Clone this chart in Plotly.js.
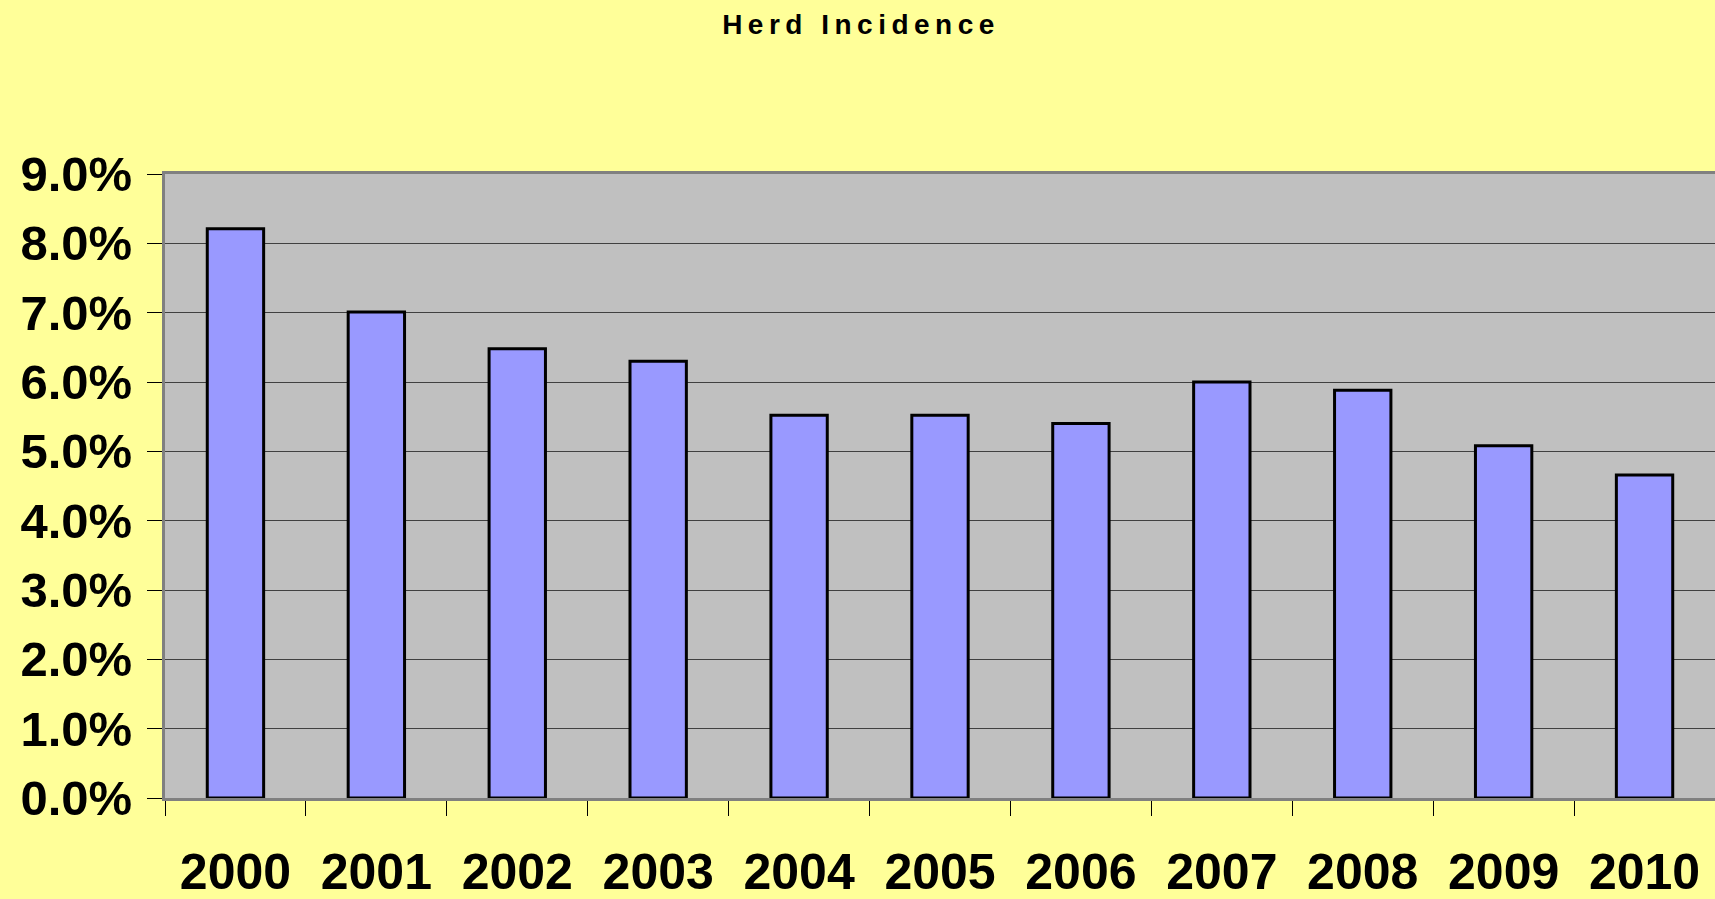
<!DOCTYPE html>
<html>
<head>
<meta charset="utf-8">
<script src="https://cdn.plot.ly/plotly-3.0.1.min.js"></script>
<style>
  html, body { margin: 0; padding: 0; background: #FFFF99; overflow: hidden; }
  #chart { width: 1715px; height: 899px; }
  .gtitle { letter-spacing: 5.5px; }
</style>
</head>
<body>
<div id="chart"></div>
<script>
// Data
const years = ["2000", "2001", "2002", "2003", "2004", "2005", "2006", "2007", "2008", "2009", "2010"];
const herdIncidence = [8.21, 7.01, 6.48, 6.30, 5.52, 5.52, 5.40, 6.00, 5.88, 5.08, 4.66];
const titleText = "Herd Incidence";

const FONT = "Liberation Sans, Arial, Helvetica, sans-serif";

const trace = {
  type: "bar",
  x: years,
  y: herdIncidence,
  width: 0.4,
  marker: { color: "#9999FF", line: { color: "#000000", width: 3 } },
  hoverinfo: "x+y"
};

const layout = {
  width: 1715,
  height: 899,
  paper_bgcolor: "#FFFF99",
  plot_bgcolor: "#C0C0C0",
  margin: { l: 165, r: 0, t: 174, b: 101, pad: 0 },
  showlegend: false,
  title: {
    text: titleText,
    font: { family: FONT, size: 28, color: "#000000", weight: 700 },
    x: 861 / 1715, xref: "container", xanchor: "center",
    y: 1 - 24 / 899, yref: "container", yanchor: "middle"
  },
  xaxis: {
    type: "category",
    range: [-0.5, 10.5],
    tickson: "boundaries",
    ticks: "outside",
    ticklen: 15,
    tickwidth: 1,
    tickcolor: "#000000",
    showgrid: false,
    showline: true,
    linecolor: "#808080",
    linewidth: 3,
    mirror: true,
    zeroline: false,
    ticklabelstandoff: 28,
    tickfont: { family: FONT, size: 50, color: "#000000", weight: 700 },
    fixedrange: true
  },
  yaxis: {
    range: [0, 9],
    dtick: 1,
    tick0: 0,
    tickformat: ".1f",
    ticksuffix: "%",
    ticks: "outside",
    ticklen: 15,
    tickwidth: 1,
    tickcolor: "#000000",
    showgrid: true,
    gridcolor: "#404040",
    gridwidth: 1,
    showline: true,
    linecolor: "#808080",
    linewidth: 3,
    mirror: true,
    zeroline: false,
    ticklabelstandoff: 5,
    tickfont: { family: FONT, size: 49, color: "#000000", weight: 700 },
    fixedrange: true
  }
};

Plotly.newPlot("chart", [trace], layout, { displayModeBar: false, staticPlot: true });
</script>
</body>
</html>
